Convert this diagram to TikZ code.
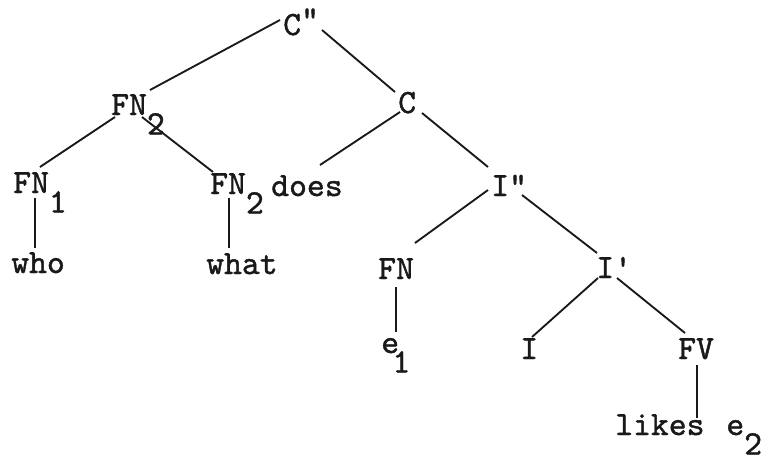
\documentclass[tikz,border=0pt]{standalone}
\usepackage{fontspec}
\newfontfamily\twfont{lmmono10-regular}[Extension=.otf,FakeBold=1.2]
\newcommand{\lowsub}[1]{\raisebox{-14.5pt}{#1}}
\begin{document}
\begin{tikzpicture}[x=0.75pt,y=-0.75pt,
  lbl/.style={anchor=base west,inner sep=0pt,font=\twfont\fontsize{25.5}{25.5}\selectfont,text=black!90},
  br/.style={line width=1.4pt,draw=black!90}]
\useasboundingbox (0,0) rectangle (777,458);
% labels
\node[lbl] (cpp)   at (283,35)  {C\raisebox{4pt}{"}};
\node[lbl] (fn2a)  at (111,115) {FN\lowsub{2}};
\node[lbl] (c)     at (398,113) {C};
\node[lbl] (fn1)   at (13,193)  {FN\lowsub{1}};
\node[lbl] (fn2b)  at (210,194) {FN\lowsub{2}};
\node[lbl] (does)  at (271,196) {does};
\node[lbl] (ipp)   at (491,196) {I"};
\node[lbl] (fn)    at (378,279) {FN};
\node[lbl] (ip)    at (596,278) {I'};
\node[lbl] (e1)    at (381,353) {e\kern-5pt\lowsub{1}};
\node[lbl] (i)     at (520,359) {I};
\node[lbl] (fv)    at (678,359) {FV};
\node[lbl] (likes) at (615,435) {likes \kern3pt e\lowsub{2}};
\node[lbl] (who)   at (11,273)  {who};
\node[lbl] (what)  at (206,274) {what};
% branches
\draw[br] ([shift={(-3,-15)}]cpp.base west) -- ([shift={(39,-25)}]fn2a.base west);
\draw[br] ([shift={(39,-5)}]cpp.base west) -- ([shift={(-3,-21)}]c.base west);
\draw[br] ([shift={(4,2)}]fn2a.base west) -- ([shift={(27,-26)}]fn1.base west);
\draw[br] ([shift={(31,2)}]fn2a.base west) -- ([shift={(3,-22)}]fn2b.base west);
\draw[br] ([shift={(2,-1)}]c.base west) -- ([shift={(49,-31)}]does.base west);
\draw[br] ([shift={(24,0)}]c.base west) -- ([shift={(-3,-29)}]ipp.base west);
\draw[br] ([shift={(22,5)}]fn1.base west) -- ([shift={(24,-25)}]who.base west);
\draw[br] ([shift={(19,4)}]fn2b.base west) -- ([shift={(23,-26)}]what.base west);
\draw[br] ([shift={(-3,-6)}]ipp.base west) -- ([shift={(37,-36)}]fn.base west);
\draw[br] ([shift={(31,-1)}]ipp.base west) -- ([shift={(1,-25)}]ip.base west);
\draw[br] ([shift={(18,8)}]fn.base west) -- ([shift={(15,-21)}]e1.base west);
\draw[br] ([shift={(2,0)}]ip.base west) -- ([shift={(12,-22)}]i.base west);
\draw[br] ([shift={(21,0)}]ip.base west) -- ([shift={(7,-26)}]fv.base west);
\draw[br] ([shift={(19,6)}]fv.base west) -- ([shift={(82,-17)}]likes.base west);
\end{tikzpicture}
\end{document}
